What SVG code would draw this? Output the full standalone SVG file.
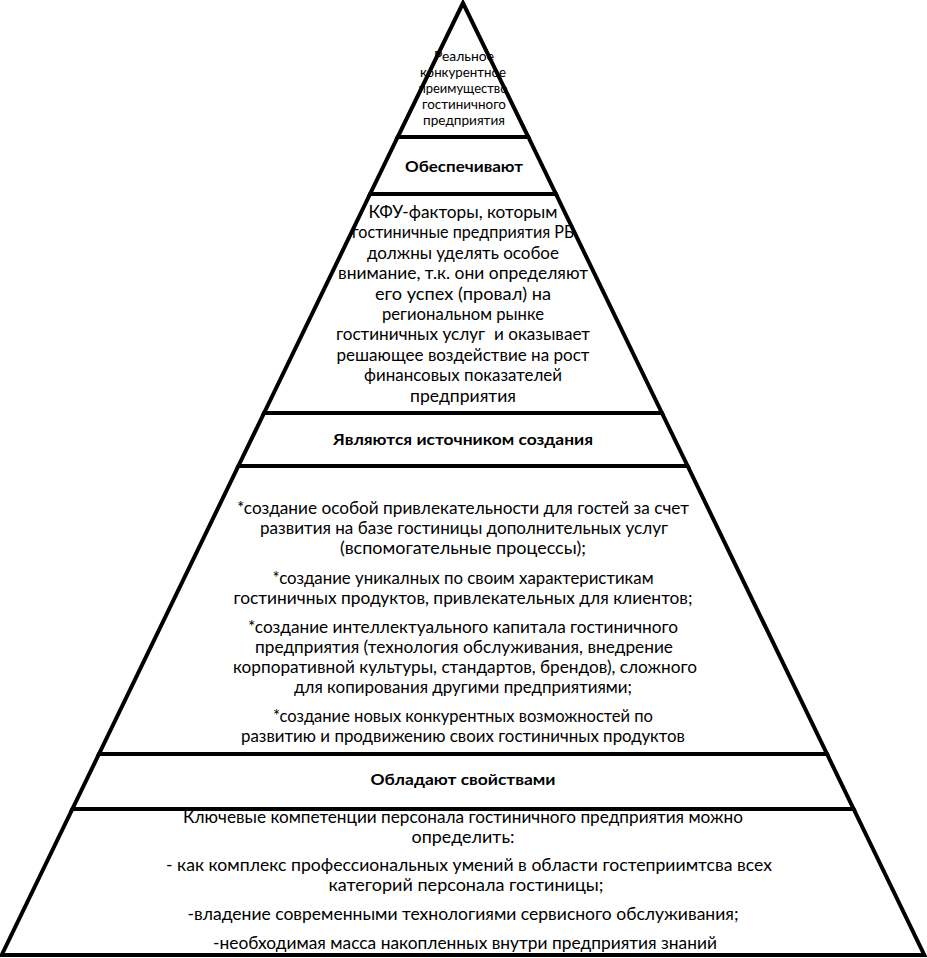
<svg xmlns="http://www.w3.org/2000/svg" width="927" height="958" viewBox="0 0 927 958">
<style>
.seg{fill:#fff;stroke:#000;stroke-width:4;stroke-linejoin:miter}
text{font-family:Lato,"Open Sans","Liberation Sans",sans-serif;fill:#000;text-anchor:middle}
.s{font-size:12.5px}
.m{font-size:16.5px}
.b{font-size:15px;font-weight:bold}
.n{font-size:16.5px}
</style>
<g id="level1">
<polygon class="seg" points="463,3 397.7,137 528.3,137"/>
<text class="s" x="464" y="61" textLength="60" lengthAdjust="spacingAndGlyphs">Реальное</text>
<text class="s" x="463" y="77" textLength="86" lengthAdjust="spacingAndGlyphs">конкурентное</text>
<text class="s" x="463" y="93" textLength="89" lengthAdjust="spacingAndGlyphs">преимущество</text>
<text class="s" x="464" y="109" textLength="84" lengthAdjust="spacingAndGlyphs">гостиничного</text>
<text class="s" x="464" y="125" textLength="82" lengthAdjust="spacingAndGlyphs">предприятия</text>
</g>
<g id="level2">
<polygon class="seg" points="397.7,137 528.3,137 555.9,194 370.1,194"/>
<text class="b" x="464" y="172" textLength="118" lengthAdjust="spacingAndGlyphs">Обеспечивают</text>
</g>
<g id="level3">
<polygon class="seg" points="370.1,194 555.9,194 661.9,413 264.1,413"/>
<text class="m" x="463" y="218" textLength="189" lengthAdjust="spacingAndGlyphs">КФУ-факторы, которым</text>
<text class="m" x="463" y="238.4" textLength="222" lengthAdjust="spacingAndGlyphs">гостиничные предприятия РБ</text>
<text class="m" x="463" y="258.8" textLength="192" lengthAdjust="spacingAndGlyphs">должны уделять особое</text>
<text class="m" x="463" y="279.2" textLength="250" lengthAdjust="spacingAndGlyphs">внимание, т.к. они определяют</text>
<text class="m" x="463" y="299.6" textLength="176" lengthAdjust="spacingAndGlyphs">его успех (провал) на</text>
<text class="m" x="463" y="320" textLength="162" lengthAdjust="spacingAndGlyphs">региональном рынке</text>
<text class="m" x="463" y="340.4" textLength="254" lengthAdjust="spacingAndGlyphs" xml:space="preserve">гостиничных услуг  и оказывает</text>
<text class="m" x="463" y="360.8" textLength="253" lengthAdjust="spacingAndGlyphs">решающее воздействие на рост</text>
<text class="m" x="463" y="381.2" textLength="198" lengthAdjust="spacingAndGlyphs">финансовых показателей</text>
<text class="m" x="463" y="401.6" textLength="106" lengthAdjust="spacingAndGlyphs">предприятия</text>
</g>
<g id="level4">
<polygon class="seg" points="264.1,413 661.9,413 687.6,466 238.4,466"/>
<text class="b" x="463" y="445" textLength="260" lengthAdjust="spacingAndGlyphs">Являются источником создания</text>
</g>
<g id="level5">
<polygon class="seg" points="238.4,466 687.6,466 827,754 99,754"/>
<text class="m" x="463" y="514" textLength="452" lengthAdjust="spacingAndGlyphs">*создание особой привлекательности для гостей за счет</text>
<text class="m" x="464" y="534" textLength="408" lengthAdjust="spacingAndGlyphs">развития на базе гостиницы дополнительных услуг</text>
<text class="m" x="463" y="554" textLength="246" lengthAdjust="spacingAndGlyphs">(вспомогательные процессы);</text>
<text class="m" x="463" y="584" textLength="381" lengthAdjust="spacingAndGlyphs">*создание уникалных по своим характеристикам</text>
<text class="m" x="463" y="604" textLength="459" lengthAdjust="spacingAndGlyphs">гостиничных продуктов, привлекательных для клиентов;</text>
<text class="m" x="463" y="633" textLength="430" lengthAdjust="spacingAndGlyphs">*создание интеллектуального капитала гостиничного</text>
<text class="m" x="464" y="653" textLength="418" lengthAdjust="spacingAndGlyphs">предприятия (технология обслуживания, внедрение</text>
<text class="m" x="465" y="673" textLength="464" lengthAdjust="spacingAndGlyphs">корпоративной культуры, стандартов, брендов), сложного</text>
<text class="m" x="463" y="693" textLength="338" lengthAdjust="spacingAndGlyphs">для копирования другими предприятиями;</text>
<text class="m" x="463" y="722" textLength="380" lengthAdjust="spacingAndGlyphs">*создание новых конкурентных возможностей по</text>
<text class="m" x="463" y="742" textLength="444" lengthAdjust="spacingAndGlyphs">развитию и продвижению своих гостиничных продуктов</text>
</g>
<g id="level6">
<polygon class="seg" points="99,754 827,754 853.6,809 72.4,809"/>
<text class="b" x="463" y="785" textLength="185" lengthAdjust="spacingAndGlyphs">Обладают свойствами</text>
</g>
<g id="level7">
<polygon class="seg" points="72.4,809 853.6,809 924.3,955 1.7,955"/>
<text class="n" x="463" y="823" textLength="560" lengthAdjust="spacingAndGlyphs">Ключевые компетенции персонала гостиничного предприятия можно</text>
<text class="n" x="463" y="843" textLength="103" lengthAdjust="spacingAndGlyphs">определить:</text>
<text class="n" x="469" y="871" textLength="606" lengthAdjust="spacingAndGlyphs">- как комплекс профессиональных умений в области гостеприимтсва всех</text>
<text class="n" x="466" y="891" textLength="275" lengthAdjust="spacingAndGlyphs">категорий персонала гостиницы;</text>
<text class="n" x="463" y="920" textLength="551" lengthAdjust="spacingAndGlyphs">-владение современными технологиями сервисного обслуживания;</text>
<text class="n" x="465" y="949" textLength="504" lengthAdjust="spacingAndGlyphs">-необходимая масса накопленных внутри предприятия знаний</text>
<line x1="1.7" y1="955" x2="924.3" y2="955" stroke="#000" stroke-width="4"/>
</g>
<g id="connectors"/>
</svg>
